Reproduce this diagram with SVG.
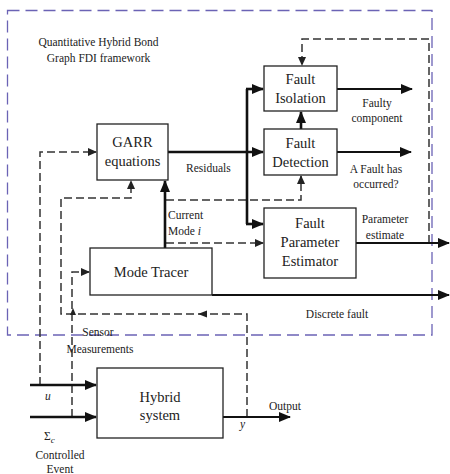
<svg xmlns="http://www.w3.org/2000/svg" width="450" height="474" viewBox="0 0 450 474">
<defs>
<marker id="ah" markerUnits="userSpaceOnUse" markerWidth="12" markerHeight="10" refX="11" refY="5" orient="auto"><path d="M0,0 L12,5 L0,10 Z" fill="#111"/></marker>
<marker id="ahs" markerUnits="userSpaceOnUse" markerWidth="9" markerHeight="8" refX="8" refY="4" orient="auto"><path d="M0,0 L9,4 L0,8 Z" fill="#222"/></marker>
</defs>
<style>
.box{fill:#fff;stroke:#222;stroke-width:1.3}
.t{font-family:"Liberation Serif",serif;font-size:14.5px;fill:#222;text-anchor:middle}
.l{font-family:"Liberation Serif",serif;font-size:11.5px;fill:#222}
.c{text-anchor:middle}
.thick{fill:none;stroke:#111;stroke-width:2.6}
.med{fill:none;stroke:#111;stroke-width:1.8}
.dash{fill:none;stroke:#333;stroke-width:1.5;stroke-dasharray:8 4}
.frame{fill:none;stroke:#6b63b5;stroke-width:1.3;stroke-dasharray:12 6}
</style>
<rect width="450" height="474" fill="#fff"/>
<rect class="frame" x="7.5" y="10.5" width="424.5" height="324.5"/>
<text class="l c" x="98.5" y="46">Quantitative Hybrid Bond</text>
<text class="l c" x="98.5" y="62">Graph FDI framework</text>

<g id="connectors">
<path class="dash" d="M40,385 V152 H96" marker-end="url(#ahs)"/>
<path class="dash" d="M72,417 V272 H89" marker-end="url(#ahs)"/>
<path class="dash" d="M247,417 V314 H61 V198 H131 V181" marker-end="url(#ahs)"/>
<path d="M198,314 L207,310.5 L207,317.5 Z" fill="#222"/>
<path d="M73,308 L70,315 L76,315 Z" fill="#222"/>
<path class="dash" d="M166,200 H301 V176" marker-end="url(#ahs)"/>
<path class="dash" d="M166,243 H263" marker-end="url(#ahs)"/>
<path class="dash" d="M429,243 V39 H302 V65" marker-end="url(#ahs)"/>
<path class="thick" d="M168,152 H263" marker-end="url(#ah)"/>
<path class="thick" d="M247,89 V224"/>
<path class="thick" d="M246,89 H263" marker-end="url(#ah)"/>
<path class="thick" d="M246,224 H263" marker-end="url(#ah)"/>
<path class="thick" d="M165,248 V181" marker-end="url(#ah)"/>
<path class="thick" d="M301,129 V112" marker-end="url(#ah)"/>
<path class="med" d="M337,89 H412" marker-end="url(#ah)"/>
<path class="med" d="M337,152 H411" marker-end="url(#ah)"/>
<path class="med" d="M356,243 H449" marker-end="url(#ah)"/>
<path class="med" d="M212,295 H449" marker-end="url(#ah)"/>
<path class="thick" d="M30,385 H96" marker-end="url(#ah)"/>
<path class="thick" d="M30,417 H96" marker-end="url(#ah)"/>
<path class="med" d="M223,417 H290" marker-end="url(#ah)"/>
<text class="l" x="186" y="172">Residuals</text>
<text class="l" x="168" y="219">Current</text>
<text class="l" x="168" y="235">Mode <tspan font-style="italic">i</tspan></text>
<text class="l c" x="377" y="107">Faulty</text>
<text class="l c" x="377" y="122">component</text>
<text class="l c" x="376" y="173">A Fault has</text>
<text class="l c" x="376" y="188">occurred?</text>
<text class="l c" x="385" y="223">Parameter</text>
<text class="l c" x="385" y="239">estimate</text>
<text class="l c" x="337" y="318">Discrete fault</text>
<text class="l c" x="98" y="336">Sensor</text>
<text class="l c" x="100" y="353">Measurements</text>
<text class="l" x="269" y="410">Output</text>
<text class="l" x="240" y="428" font-style="italic" font-size="15">y</text>
<text class="l" x="45" y="400" font-style="italic" font-size="20">u</text>
<text class="l" x="44" y="440" font-size="15">Σ<tspan font-size="9" font-style="italic" dy="3">c</tspan></text>
<text class="l c" x="60" y="459">Controlled</text>
<text class="l c" x="60" y="473">Event</text>
</g>

<g id="garr"><rect class="box" x="97" y="124" width="71" height="56"/><text class="t" x="132.5" y="147">GARR</text><text class="t" x="132.5" y="166">equations</text></g>
<g id="fault-isolation"><rect class="box" x="264" y="66" width="73" height="45"/><text class="t" x="300.5" y="84">Fault</text><text class="t" x="300.5" y="103">Isolation</text></g>
<g id="fault-detection"><rect class="box" x="264" y="129" width="73" height="46"/><text class="t" x="300.5" y="148">Fault</text><text class="t" x="300.5" y="167">Detection</text></g>
<g id="fault-parameter-estimator"><rect class="box" x="264" y="208" width="92" height="70"/><text class="t" x="310" y="228">Fault</text><text class="t" x="310" y="247">Parameter</text><text class="t" x="310" y="266">Estimator</text></g>
<g id="mode-tracer"><rect class="box" x="90" y="248" width="122" height="47"/><text class="t" x="151" y="277">Mode Tracer</text></g>
<g id="hybrid-system"><rect class="box" x="97" y="368" width="126" height="70"/><text class="t" x="160" y="402">Hybrid</text><text class="t" x="160" y="420">system</text></g>
</svg>
